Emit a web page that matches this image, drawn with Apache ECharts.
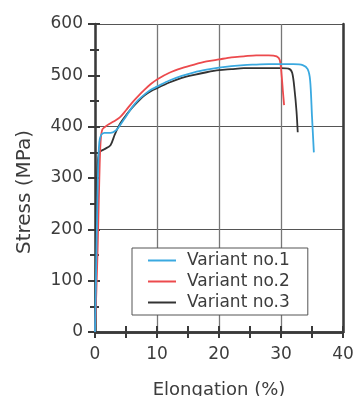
<!DOCTYPE html>
<html>
<head>
<meta charset="utf-8">
<script src="https://cdn.jsdelivr.net/npm/echarts@6/dist/echarts.min.js"></script>
<style>html,body{margin:0;padding:0;background:#fff}#c{width:355px;height:396px}</style>
</head>
<body>
<div id="c"></div>
<script>
const seriesNames = ['Variant no.1', 'Variant no.2', 'Variant no.3'];
const variant1 = [[0,0],[0.3,200],[0.5,320],[0.7,370],[1,384],[1.5,388],[2.5,388],[3.3,392],[4,402],[5,420],[6,438],[7,452],[8,463],[9,472],[10,478],[12,490],[14,499],[16,506],[18,511],[20,515],[22,518],[24,520],[26,521],[28,522],[30,522],[32,522],[33.5,520],[34.3,512],[34.7,490],[35,420],[35.3,350]];
const variant2 = [[0,0],[0.4,150],[0.7,300],[0.9,370],[1.2,395],[2,403],[3,410],[4,418],[5,432],[6,447],[7,460],[8,472],[9,483],[10,492],[12,505],[14,514],[16,521],[18,527],[20,531],[22,535],[24,537],[26,539],[28,539],[29.3,537],[29.8,530],[30.1,500],[30.3,470],[30.5,442]];
const variant3 = [[0,0],[0.2,200],[0.4,320],[0.7,350],[1.5,356],[2.5,364],[3.2,385],[4,405],[5,422],[6,437],[7,450],[8,461],[9,469],[10,475],[12,486],[14,495],[16,501],[18,506],[20,510],[22,512],[24,514],[26,514],[28,514],[30,514],[31.2,513],[31.8,505],[32.2,470],[32.5,430],[32.7,389]];
const xTicks = [0, 40, 10];   // min, max, step
const yTicks = [0, 600, 100];
const colors = ['#3aa9e0', '#ec4a4d', '#333333'];

const chart = echarts.init(document.getElementById('c'));
const font = 'DejaVu Sans, sans-serif';
const axisColor = '#3a3a3a';
const textColor = '#3c3c3c';
const baseX = {min: xTicks[0], max: xTicks[1], interval: xTicks[2], splitLine: {show: false}};
const baseY = {min: yTicks[0], max: yTicks[1], interval: yTicks[2], splitLine: {show: false}};
chart.setOption({
  animation: false,
  backgroundColor: '#fff',
  grid: {left: 95, right: 12, top: 24, bottom: 64, containLabel: false, outerBoundsMode: 'none'},
  legend: {
    orient: 'vertical', left: 132, top: 248,
    backgroundColor: '#fff', borderColor: '#555', borderWidth: 1,
    padding: [4, 18, 4, 16], itemGap: 4, itemWidth: 28, itemHeight: 16,
    icon: 'path://M0,0L28,0L28,2L0,2Z',
    textStyle: {fontFamily: font, fontSize: 17, lineHeight: 16, color: textColor, padding: [0, 0, 0, 6]},
    data: seriesNames
  },
  xAxis: [
    Object.assign({}, baseX, {
      type: 'value', position: 'bottom',
      name: 'Elongation (%)', nameLocation: 'middle', nameGap: 49,
      nameTextStyle: {fontFamily: font, fontSize: 18, color: textColor},
      axisLine: {show: true, lineStyle: {color: axisColor, width: 2.5}},
      axisTick: {show: true, inside: false, length: 6, lineStyle: {color: axisColor, width: 2}},
      minorTick: {show: true, splitNumber: 2, length: 6, lineStyle: {color: axisColor, width: 2}},
      axisLabel: {fontFamily: font, fontSize: 17, color: textColor, margin: 14},
      splitLine: {show: true, lineStyle: {color: '#777', width: 1.3}}
    }),
    Object.assign({}, baseX, {
      type: 'value', position: 'bottom',
      axisLine: {show: false},
      axisTick: {show: true, inside: true, length: 6, lineStyle: {color: axisColor, width: 2}},
      minorTick: {show: true, splitNumber: 2, length: 6, lineStyle: {color: axisColor, width: 2}},
      axisLabel: {show: false}
    }),
    Object.assign({}, baseX, {
      type: 'value', position: 'top',
      axisLine: {show: true, lineStyle: {color: axisColor, width: 2.5}},
      axisTick: {show: false}, axisLabel: {show: false}
    })
  ],
  yAxis: [
    Object.assign({}, baseY, {
      type: 'value', position: 'left',
      name: 'Stress (MPa)', nameLocation: 'middle', nameGap: 60,
      nameTextStyle: {fontFamily: font, fontSize: 20, color: textColor, padding: [0, 28, 0, 0]},
      axisLine: {show: true, lineStyle: {color: axisColor, width: 2.5}},
      axisTick: {show: true, inside: false, length: 7, lineStyle: {color: axisColor, width: 2}},
      minorTick: {show: true, splitNumber: 2, length: 5, lineStyle: {color: axisColor, width: 2}},
      axisLabel: {fontFamily: font, fontSize: 17, color: textColor, margin: 12}
    }),
    Object.assign({}, baseY, {
      type: 'value', position: 'left',
      axisLine: {show: false},
      axisTick: {show: true, inside: true, length: 5, lineStyle: {color: axisColor, width: 2}},
      minorTick: {show: true, splitNumber: 2, length: 4, lineStyle: {color: axisColor, width: 2}},
      axisLabel: {show: false}
    }),
    {
      type: 'value', position: 'left', min: yTicks[0], max: yTicks[1], interval: 200,
      axisLine: {show: false}, axisTick: {show: false}, axisLabel: {show: false},
      splitLine: {show: true, lineStyle: {color: '#555', width: 1}}
    },
    Object.assign({}, baseY, {
      type: 'value', position: 'right',
      axisLine: {show: true, lineStyle: {color: axisColor, width: 2.5}},
      axisTick: {show: false}, axisLabel: {show: false}
    })
  ],
  series: [variant1, variant2, variant3].map((d, i) => ({
    name: seriesNames[i], type: 'line', data: d, smooth: 0.3,
    symbol: 'none', xAxisIndex: 0, yAxisIndex: 0,
    lineStyle: {color: colors[i], width: 1.8}, itemStyle: {color: colors[i]},
    z: 5 - i
  }))
});
</script>
</body>
</html>
